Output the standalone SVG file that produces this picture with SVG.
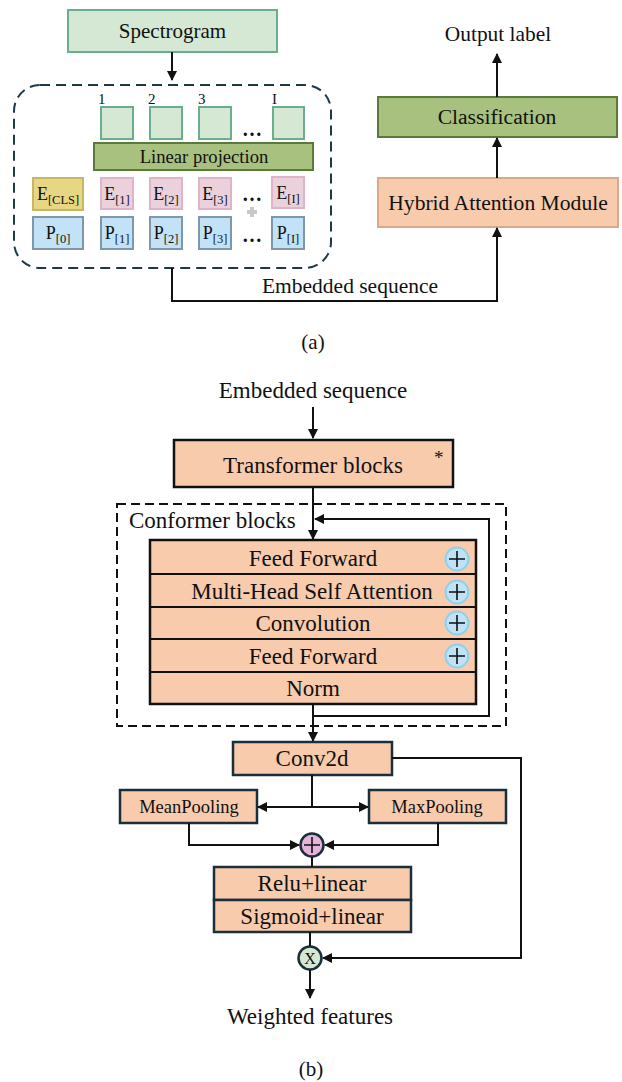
<svg xmlns="http://www.w3.org/2000/svg" width="622" height="1082" viewBox="0 0 622 1082">
<defs>
<style>
text{font-family:"Liberation Serif","Times New Roman",serif;fill:#111;}
.c{text-anchor:middle;}
.ln{fill:none;stroke:#111;stroke-width:2;}
.green{fill:#d5e8d4;stroke:#6aae91;stroke-width:2;}
.olive{fill:#a9c17f;stroke:#5a7a3b;stroke-width:2;}
.ecls{fill:#e8d782;stroke:#c6b666;stroke-width:2;}
.epink{fill:#ead1dc;stroke:#e0b4c8;stroke-width:2;}
.pblue{fill:#c2e3f7;stroke:#7f97a6;stroke-width:2;}
.peach{fill:#f8cbad;stroke:#d9a98a;stroke-width:2;}
.pk{fill:#f8cbad;stroke:#111;stroke-width:2.5;}
.pn{fill:#f8cbad;stroke:#1b2f3a;stroke-width:2.5;}
.plusc{fill:#bfe3f5;stroke:#8fd0ef;stroke-width:2;}
.b{font-size:23px;}
</style>
<marker id="ah" viewBox="0 0 10 10" refX="9" refY="5" markerWidth="5" markerHeight="5" orient="auto-start-reverse">
<path d="M0,0 L10,5 L0,10 z" fill="#111"/>
</marker>
</defs>

<!-- Part (a) -->
<g id="spectrogram">
<rect class="green" x="68" y="10" width="209" height="42"/>
<text class="c" x="172.5" y="38" font-size="21">Spectrogram</text>
</g>

<g id="embedding-box">
<rect x="14" y="85" width="317" height="183" rx="26" fill="none" stroke="#1e3a4a" stroke-width="2" stroke-dasharray="10 6"/>
</g>

<g id="patches">
<text x="98" y="104" font-size="15">1</text>
<text x="148" y="104" font-size="15">2</text>
<text x="198" y="104" font-size="15">3</text>
<text x="272" y="104" font-size="15">I</text>
<rect class="green" x="101" y="107" width="32" height="32"/>
<rect class="green" x="150" y="107" width="32" height="32"/>
<rect class="green" x="199" y="107" width="32" height="32"/>
<rect class="green" x="273" y="107" width="31" height="32"/>
<text class="c" x="252" y="136" font-size="20" font-weight="bold">…</text>
</g>

<g id="linear-projection">
<rect class="olive" x="94" y="143" width="219" height="27"/>
<text class="c" x="204" y="163" font-size="18.6">Linear projection</text>
</g>

<g id="token-embeddings">
<rect class="ecls" x="33" y="178" width="50" height="32"/>
<text class="c" x="58" y="200" font-size="18">E<tspan font-size="12.5" dy="4">[CLS]</tspan></text>
<rect class="epink" x="101" y="178" width="32" height="31"/>
<text class="c" x="117" y="200" font-size="18">E<tspan font-size="12.5" dy="4">[1]</tspan></text>
<rect class="epink" x="150" y="178" width="32" height="31"/>
<text class="c" x="166" y="200" font-size="18">E<tspan font-size="12.5" dy="4">[2]</tspan></text>
<rect class="epink" x="199" y="178" width="32" height="31"/>
<text class="c" x="215" y="200" font-size="18">E<tspan font-size="12.5" dy="4">[3]</tspan></text>
<text class="c" x="252" y="201" font-size="20" font-weight="bold">…</text>
<rect class="epink" x="272" y="177" width="32" height="31"/>
<text class="c" x="288" y="199" font-size="18">E<tspan font-size="12.5" dy="4">[I]</tspan></text>
<path d="M252,207 V217 M247,212 H257" stroke="#c8c8c8" stroke-width="4"/>
</g>

<g id="position-embeddings">
<rect class="pblue" x="33" y="217" width="50" height="32"/>
<text class="c" x="58" y="239" font-size="18">P<tspan font-size="12.5" dy="4">[0]</tspan></text>
<rect class="pblue" x="101" y="217" width="32" height="32"/>
<text class="c" x="117" y="239" font-size="18">P<tspan font-size="12.5" dy="4">[1]</tspan></text>
<rect class="pblue" x="150" y="217" width="32" height="32"/>
<text class="c" x="166" y="239" font-size="18">P<tspan font-size="12.5" dy="4">[2]</tspan></text>
<rect class="pblue" x="199" y="217" width="32" height="32"/>
<text class="c" x="215" y="239" font-size="18">P<tspan font-size="12.5" dy="4">[3]</tspan></text>
<text class="c" x="252" y="242" font-size="20" font-weight="bold">…</text>
<rect class="pblue" x="272" y="217" width="32" height="32"/>
<text class="c" x="288" y="239" font-size="18">P<tspan font-size="12.5" dy="4">[I]</tspan></text>
</g>

<g id="hybrid-attention">
<rect class="peach" x="378" y="178" width="240" height="49"/>
<text class="c" x="498" y="210" font-size="21.6">Hybrid Attention Module</text>
</g>

<g id="classification">
<rect class="olive" x="378" y="97" width="239" height="40"/>
<text class="c" x="497" y="124" font-size="21.6">Classification</text>
</g>

<text id="output-label" class="c" x="498" y="41" font-size="21.4">Output label</text>
<text id="embedded-label-a" class="c" x="350" y="293" font-size="21.5">Embedded sequence</text>
<text id="caption-a" class="c" x="313" y="349" font-size="21">(a)</text>

<!-- Part (b) -->
<text id="embedded-label-b" class="c b" x="313" y="398">Embedded sequence</text>

<g id="transformer-blocks">
<rect class="pk" x="174" y="440" width="279" height="47"/>
<text class="c b" x="313" y="473">Transformer blocks</text>
<text x="434" y="464" font-size="19">*</text>
</g>

<g id="conformer-blocks">
<rect x="117" y="504" width="389" height="222" fill="none" stroke="#111" stroke-width="2" stroke-dasharray="9 5"/>
<text class="b" x="129" y="528">Conformer blocks</text>
<rect class="pk" x="150" y="540" width="326" height="164"/>
<path d="M150,574 H476 M150,607 H476 M150,639 H476 M150,672 H476" stroke="#111" stroke-width="2" fill="none"/>
<text class="c b" x="313" y="566">Feed Forward</text>
<text class="c b" x="312" y="599">Multi-Head Self Attention</text>
<text class="c b" x="313" y="631">Convolution</text>
<text class="c b" x="313" y="664">Feed Forward</text>
<text class="c b" x="313" y="696">Norm</text>
<g id="residual-adds">
<circle class="plusc" cx="457" cy="559" r="11.5"/>
<circle class="plusc" cx="457" cy="592" r="11.5"/>
<circle class="plusc" cx="457" cy="623" r="11.5"/>
<circle class="plusc" cx="457" cy="656" r="11.5"/>
<path d="M449,559 H465 M457,551 V567 M449,592 H465 M457,584 V600 M449,623 H465 M457,615 V631 M449,656 H465 M457,648 V664" stroke="#111" stroke-width="1.6"/>
</g>
</g>

<g id="conv2d">
<rect class="pn" x="233" y="742" width="159" height="33"/>
<text class="c b" x="312" y="766">Conv2d</text>
</g>

<g id="meanpooling">
<rect class="pn" x="120" y="790" width="137" height="33"/>
<text class="c" x="189" y="813" font-size="18.5">MeanPooling</text>
</g>

<g id="maxpooling">
<rect class="pn" x="369" y="790" width="137" height="33"/>
<text class="c" x="437" y="813" font-size="18.5">MaxPooling</text>
</g>

<g id="add-node">
<circle cx="312" cy="845" r="11.5" fill="#e5b3dc" stroke="#1b2f3a" stroke-width="2.5"/>
<path d="M304,845 H320 M312,837 V853" stroke="#111" stroke-width="1.6"/>
</g>

<g id="relu-linear">
<rect class="pn" x="214" y="867" width="197" height="33"/>
<text class="c b" x="312" y="891">Relu+linear</text>
</g>

<g id="sigmoid-linear">
<rect class="pn" x="214" y="900" width="197" height="32"/>
<text class="c b" x="312" y="924">Sigmoid+linear</text>
</g>

<g id="multiply-node">
<circle cx="310" cy="958" r="11.5" fill="#d5e8d4" stroke="#1b2f3a" stroke-width="2.5"/>
<text class="c" x="310" y="964" font-size="16">X</text>
</g>

<text id="weighted-features" class="c b" x="310" y="1024">Weighted features</text>
<text id="caption-b" class="c" x="311" y="1076" font-size="21">(b)</text>

<g id="connectors">
<path class="ln" d="M172,52 V80" marker-end="url(#ah)"/>
<path class="ln" d="M172,268 V301 H497 V228" marker-end="url(#ah)"/>
<path class="ln" d="M497,178 V138" marker-end="url(#ah)"/>
<path class="ln" d="M497,97 V54" marker-end="url(#ah)"/>
<path class="ln" d="M313,407 V438" marker-end="url(#ah)"/>
<path class="ln" d="M313,487 V539" marker-end="url(#ah)"/>
<path class="ln" d="M313,716 H489 V519 H315" marker-end="url(#ah)"/>
<path class="ln" d="M313,704 V741" marker-end="url(#ah)"/>
<path class="ln" d="M312,775 V807"/>
<path class="ln" d="M312,807 H258" marker-end="url(#ah)"/>
<path class="ln" d="M312,807 H368" marker-end="url(#ah)"/>
<path class="ln" d="M189,823 V845 H299" marker-end="url(#ah)"/>
<path class="ln" d="M438,823 V845 H325" marker-end="url(#ah)"/>
<path class="ln" d="M312,857 V867"/>
<path class="ln" d="M310,932 V946"/>
<path class="ln" d="M392,758 H521 V958 H323" marker-end="url(#ah)"/>
<path class="ln" d="M310,970 V998" marker-end="url(#ah)"/>
</g>
</svg>
